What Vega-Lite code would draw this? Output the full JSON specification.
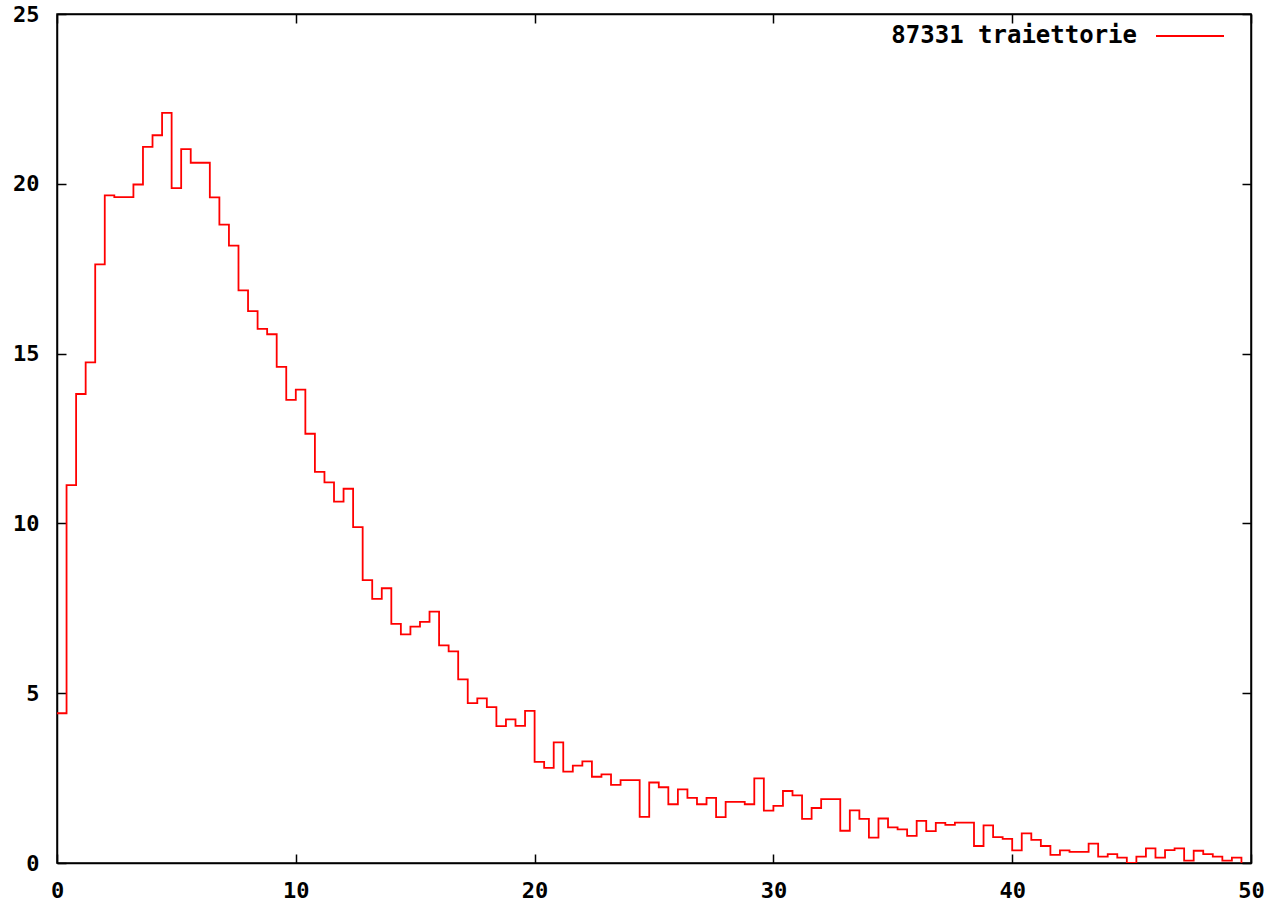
{
  "$schema": "https://vega.github.io/schema/vega-lite/v6.json",
  "autosize": {"type": "none"},
  "padding": {"left": 57, "top": 14, "right": 27, "bottom": 45},
  "width": 1194,
  "height": 849,
  "background": "white",
  "config": {
    "view": {"stroke": "black", "strokeWidth": 1.5},
    "axis": {
      "domainColor": "black", "domainWidth": 1.5,
      "tickColor": "black", "tickWidth": 1.5, "tickSize": -9,
      "grid": false,
      "labelFont": "DejaVu Sans Mono", "labelFontWeight": "bold", "labelFontSize": 22, "labelColor": "black",
      "title": null
    },
    "legend": {
      "labelFont": "DejaVu Sans Mono", "labelFontWeight": "bold", "labelFontSize": 24, "labelColor": "black", "labelLimit": 600
    }
  },
  "data": {
    "values": [
      {"x": 0.0, "y": 4.41}, {"x": 0.4, "y": 11.13}, {"x": 0.8, "y": 13.81}, {"x": 1.2, "y": 14.74}, {"x": 1.6, "y": 17.63},
      {"x": 2.0, "y": 19.66}, {"x": 2.4, "y": 19.61}, {"x": 2.8, "y": 19.61}, {"x": 3.2, "y": 19.98}, {"x": 3.6, "y": 21.09},
      {"x": 4.0, "y": 21.43}, {"x": 4.4, "y": 22.09}, {"x": 4.8, "y": 19.87}, {"x": 5.2, "y": 21.02}, {"x": 5.6, "y": 20.62},
      {"x": 6.0, "y": 20.62}, {"x": 6.4, "y": 19.6}, {"x": 6.8, "y": 18.8}, {"x": 7.2, "y": 18.18}, {"x": 7.6, "y": 16.86},
      {"x": 8.0, "y": 16.25}, {"x": 8.4, "y": 15.73}, {"x": 8.8, "y": 15.57}, {"x": 9.2, "y": 14.61}, {"x": 9.6, "y": 13.64},
      {"x": 10.0, "y": 13.94}, {"x": 10.4, "y": 12.64}, {"x": 10.8, "y": 11.52}, {"x": 11.2, "y": 11.21}, {"x": 11.6, "y": 10.64},
      {"x": 12.0, "y": 11.02}, {"x": 12.4, "y": 9.89}, {"x": 12.8, "y": 8.33}, {"x": 13.2, "y": 7.78}, {"x": 13.6, "y": 8.09},
      {"x": 14.0, "y": 7.04}, {"x": 14.4, "y": 6.73}, {"x": 14.8, "y": 6.96}, {"x": 15.2, "y": 7.1}, {"x": 15.6, "y": 7.4},
      {"x": 16.0, "y": 6.41}, {"x": 16.4, "y": 6.23}, {"x": 16.8, "y": 5.41}, {"x": 17.2, "y": 4.71}, {"x": 17.6, "y": 4.85},
      {"x": 18.0, "y": 4.59}, {"x": 18.4, "y": 4.03}, {"x": 18.8, "y": 4.23}, {"x": 19.2, "y": 4.04}, {"x": 19.6, "y": 4.48},
      {"x": 20.0, "y": 2.98}, {"x": 20.4, "y": 2.8}, {"x": 20.8, "y": 3.55}, {"x": 21.2, "y": 2.69}, {"x": 21.6, "y": 2.87},
      {"x": 22.0, "y": 2.99}, {"x": 22.4, "y": 2.54}, {"x": 22.8, "y": 2.61}, {"x": 23.2, "y": 2.3}, {"x": 23.6, "y": 2.44},
      {"x": 24.0, "y": 2.44}, {"x": 24.4, "y": 1.36}, {"x": 24.8, "y": 2.37}, {"x": 25.2, "y": 2.23}, {"x": 25.6, "y": 1.73},
      {"x": 26.0, "y": 2.17}, {"x": 26.4, "y": 1.92}, {"x": 26.8, "y": 1.73}, {"x": 27.2, "y": 1.92}, {"x": 27.6, "y": 1.35},
      {"x": 28.0, "y": 1.8}, {"x": 28.4, "y": 1.8}, {"x": 28.8, "y": 1.73}, {"x": 29.2, "y": 2.49}, {"x": 29.6, "y": 1.54},
      {"x": 30.0, "y": 1.68}, {"x": 30.4, "y": 2.12}, {"x": 30.8, "y": 1.99}, {"x": 31.2, "y": 1.3}, {"x": 31.6, "y": 1.62},
      {"x": 32.0, "y": 1.88}, {"x": 32.4, "y": 1.88}, {"x": 32.8, "y": 0.95}, {"x": 33.2, "y": 1.55}, {"x": 33.6, "y": 1.3},
      {"x": 34.0, "y": 0.75}, {"x": 34.4, "y": 1.31}, {"x": 34.8, "y": 1.05}, {"x": 35.2, "y": 0.99}, {"x": 35.6, "y": 0.8},
      {"x": 36.0, "y": 1.24}, {"x": 36.4, "y": 0.94}, {"x": 36.8, "y": 1.18}, {"x": 37.2, "y": 1.12}, {"x": 37.6, "y": 1.19},
      {"x": 38.0, "y": 1.19}, {"x": 38.4, "y": 0.5}, {"x": 38.8, "y": 1.11}, {"x": 39.2, "y": 0.76}, {"x": 39.6, "y": 0.71},
      {"x": 40.0, "y": 0.37}, {"x": 40.4, "y": 0.87}, {"x": 40.8, "y": 0.68}, {"x": 41.2, "y": 0.5}, {"x": 41.6, "y": 0.24},
      {"x": 42.0, "y": 0.37}, {"x": 42.4, "y": 0.33}, {"x": 42.8, "y": 0.33}, {"x": 43.2, "y": 0.57}, {"x": 43.6, "y": 0.19},
      {"x": 44.0, "y": 0.26}, {"x": 44.4, "y": 0.16}, {"x": 44.8, "y": 0.0}, {"x": 45.2, "y": 0.19}, {"x": 45.6, "y": 0.43},
      {"x": 46.0, "y": 0.16}, {"x": 46.4, "y": 0.38}, {"x": 46.8, "y": 0.43}, {"x": 47.2, "y": 0.07}, {"x": 47.6, "y": 0.36},
      {"x": 48.0, "y": 0.26}, {"x": 48.4, "y": 0.19}, {"x": 48.8, "y": 0.07}, {"x": 49.2, "y": 0.16}, {"x": 49.6, "y": 0.0}
    ]
  },
  "layer": [
    {
      "mark": {"type": "line", "interpolate": "step-after", "strokeWidth": 1.8, "clip": true},
      "encoding": {
        "x": {"field": "x", "type": "quantitative", "scale": {"domain": [0, 50], "nice": false, "zero": false},
              "axis": {"orient": "bottom", "values": [0, 10, 20, 30, 40, 50], "labelPadding": 26, "labelFlush": false}},
        "y": {"field": "y", "type": "quantitative", "scale": {"domain": [0, 25], "nice": false},
              "axis": {"orient": "left", "values": [0, 5, 10, 15, 20, 25], "labelPadding": 27}},
        "color": {"datum": "87331 traiettorie", "type": "nominal",
                  "scale": {"range": ["#ff0000"]},
                  "legend": {"title": null, "orient": "none", "legendX": 1098, "legendY": -13, "padding": 0,
                             "symbolType": "stroke", "symbolSize": 4624, "symbolStrokeWidth": 1.8,
                             "labelAlign": "right", "labelOffset": -88}}
      }
    },
    {
      "mark": {"type": "line", "interpolate": "step-after", "opacity": 0},
      "encoding": {
        "x": {"field": "x", "type": "quantitative",
              "axis": {"orient": "top", "values": [0, 10, 20, 30, 40, 50], "labels": false}},
        "y": {"field": "y", "type": "quantitative",
              "axis": {"orient": "right", "values": [0, 5, 10, 15, 20, 25], "labels": false}}
      }
    }
  ],
  "resolve": {"axis": {"x": "independent", "y": "independent"}}
}
